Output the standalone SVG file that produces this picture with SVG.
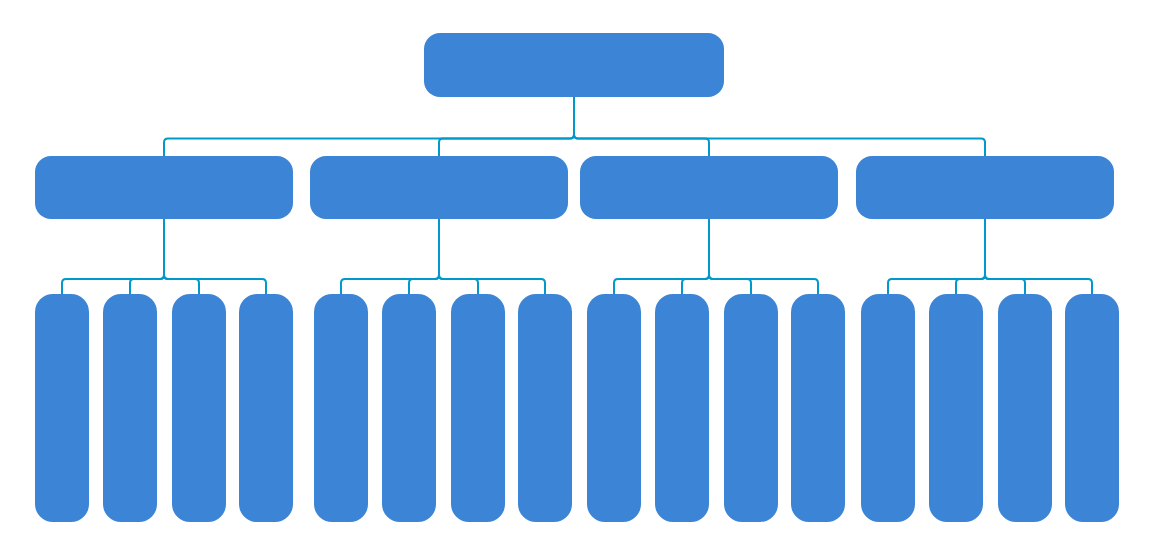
<svg xmlns="http://www.w3.org/2000/svg" width="1149" height="544" viewBox="0 0 1149 544">
<style>
.n{fill:#3b84d6}
.c{fill:none;stroke:#0099cc;stroke-width:2;stroke-linejoin:round}
</style>
<rect width="1149" height="544" fill="#fff"/>
<g id="connectors" class="c">
<path d="M574,97 V134.5 Q574,138.5 570,138.5 H168 Q164,138.5 164,142.5 V156"/>
<path d="M574,97 V134.5 Q574,138.5 570,138.5 H443 Q439,138.5 439,142.5 V156"/>
<path d="M574,97 V134.5 Q574,138.5 578,138.5 H705 Q709,138.5 709,142.5 V156"/>
<path d="M574,97 V134.5 Q574,138.5 578,138.5 H981 Q985,138.5 985,142.5 V156"/>
<path d="M164,219 V275 Q164,279 160,279 H66 Q62,279 62,283 V294"/>
<path d="M164,219 V275 Q164,279 160,279 H134 Q130,279 130,283 V294"/>
<path d="M164,219 V275 Q164,279 168,279 H195 Q199,279 199,283 V294"/>
<path d="M164,219 V275 Q164,279 168,279 H262 Q266,279 266,283 V294"/>
<path d="M439,219 V275 Q439,279 435,279 H345 Q341,279 341,283 V294"/>
<path d="M439,219 V275 Q439,279 435,279 H413 Q409,279 409,283 V294"/>
<path d="M439,219 V275 Q439,279 443,279 H474 Q478,279 478,283 V294"/>
<path d="M439,219 V275 Q439,279 443,279 H541 Q545,279 545,283 V294"/>
<path d="M709,219 V275 Q709,279 705,279 H618 Q614,279 614,283 V294"/>
<path d="M709,219 V275 Q709,279 705,279 H686 Q682,279 682,283 V294"/>
<path d="M709,219 V275 Q709,279 713,279 H747 Q751,279 751,283 V294"/>
<path d="M709,219 V275 Q709,279 713,279 H814 Q818,279 818,283 V294"/>
<path d="M985,219 V275 Q985,279 981,279 H892 Q888,279 888,283 V294"/>
<path d="M985,219 V275 Q985,279 981,279 H960 Q956,279 956,283 V294"/>
<path d="M985,219 V275 Q985,279 989,279 H1021 Q1025,279 1025,283 V294"/>
<path d="M985,219 V275 Q985,279 989,279 H1088 Q1092,279 1092,283 V294"/>
</g>
<g id="root"><rect class="n" x="424" y="33" width="300" height="64" rx="16"/></g>
<g id="b1"><rect class="n" x="35" y="156" width="258" height="63" rx="16"/></g>
<g id="b2"><rect class="n" x="310" y="156" width="258" height="63" rx="16"/></g>
<g id="b3"><rect class="n" x="580" y="156" width="258" height="63" rx="16"/></g>
<g id="b4"><rect class="n" x="856" y="156" width="258" height="63" rx="16"/></g>
<g id="l1"><rect class="n" x="35" y="294" width="54" height="228" rx="18"/></g>
<g id="l2"><rect class="n" x="103" y="294" width="54" height="228" rx="18"/></g>
<g id="l3"><rect class="n" x="172" y="294" width="54" height="228" rx="18"/></g>
<g id="l4"><rect class="n" x="239" y="294" width="54" height="228" rx="18"/></g>
<g id="l5"><rect class="n" x="314" y="294" width="54" height="228" rx="18"/></g>
<g id="l6"><rect class="n" x="382" y="294" width="54" height="228" rx="18"/></g>
<g id="l7"><rect class="n" x="451" y="294" width="54" height="228" rx="18"/></g>
<g id="l8"><rect class="n" x="518" y="294" width="54" height="228" rx="18"/></g>
<g id="l9"><rect class="n" x="587" y="294" width="54" height="228" rx="18"/></g>
<g id="l10"><rect class="n" x="655" y="294" width="54" height="228" rx="18"/></g>
<g id="l11"><rect class="n" x="724" y="294" width="54" height="228" rx="18"/></g>
<g id="l12"><rect class="n" x="791" y="294" width="54" height="228" rx="18"/></g>
<g id="l13"><rect class="n" x="861" y="294" width="54" height="228" rx="18"/></g>
<g id="l14"><rect class="n" x="929" y="294" width="54" height="228" rx="18"/></g>
<g id="l15"><rect class="n" x="998" y="294" width="54" height="228" rx="18"/></g>
<g id="l16"><rect class="n" x="1065" y="294" width="54" height="228" rx="18"/></g>
</svg>
